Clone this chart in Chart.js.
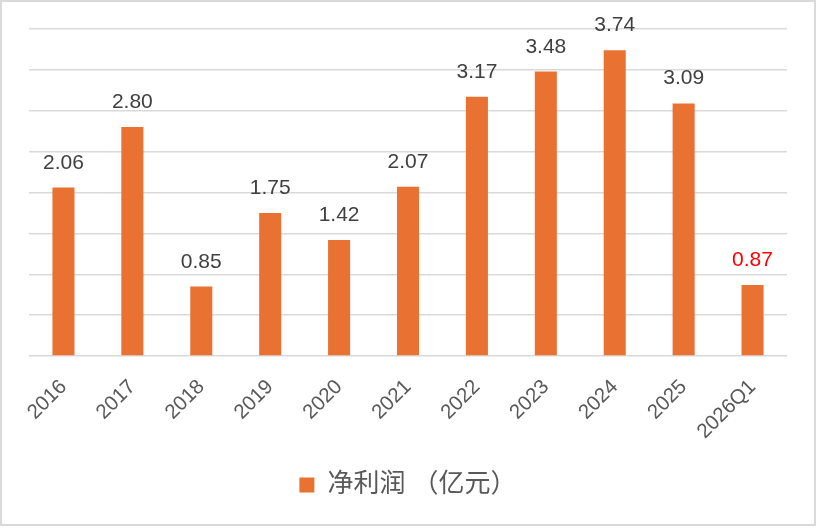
<!DOCTYPE html>
<html>
<head>
<meta charset="utf-8">
<script src="https://cdn.jsdelivr.net/npm/chart.js@4"></script>
<style>
  html, body { margin: 0; padding: 0; background: #ffffff; }
  #wrap { position: relative; width: 818px; height: 528px; }
  #frame { position: absolute; left: 0; top: 0; width: 816px; height: 526px; box-sizing: border-box; border: 2px solid #d9d9d9; pointer-events: none; }
  canvas { display: block; }
</style>
</head>
<body>
<div id="wrap">
  <canvas id="c" width="818" height="528"></canvas>
  <div id="frame"></div>
</div>
<script>
const categories = ['2016', '2017', '2018', '2019', '2020', '2021', '2022', '2023', '2024', '2025', '2026Q1'];
const netProfit = [2.06, 2.80, 0.85, 1.75, 1.42, 2.07, 3.17, 3.48, 3.74, 3.09, 0.87];
const seriesName = '净利润 （亿元）';
const yMin = 0, yMax = 4, yStep = 0.5;

const FONT = '"Liberation Sans", Arial, "Noto Sans CJK SC", sans-serif';
const BAR_COLOR = '#E97132';

const dataLabelPlugin = {
  id: 'dataLabels',
  afterDatasetsDraw(chart) {
    const ctx = chart.ctx;
    const meta = chart.getDatasetMeta(0);
    const vals = chart.data.datasets[0].data;
    ctx.save();
    ctx.font = '21px ' + FONT;
    ctx.textAlign = 'center';
    ctx.textBaseline = 'alphabetic';
    meta.data.forEach((bar, i) => {
      ctx.fillStyle = (i === vals.length - 1) ? '#FF0000' : '#404040';
      ctx.fillText(vals[i].toFixed(2), bar.x, bar.y - 19);
    });
    ctx.restore();
  }
};

new Chart(document.getElementById('c'), {
  type: 'bar',
  data: {
    labels: categories,
    datasets: [{
      label: seriesName,
      data: netProfit,
      backgroundColor: BAR_COLOR,
      borderWidth: 0,
      categoryPercentage: 1.0,
      barPercentage: 0.32
    }]
  },
  options: {
    responsive: false,
    animation: false,
    devicePixelRatio: 1,
    layout: { padding: { left: 29, right: 31, top: 29, bottom: 20 } },
    plugins: {
      legend: {
        position: 'bottom',
        labels: {
          boxWidth: 15,
          boxHeight: 15,
          padding: 9,
          color: '#595959',
          font: { size: 26, family: FONT }
        }
      },
      tooltip: { enabled: false }
    },
    scales: {
      x: {
        grid: { display: false, drawTicks: false },
        border: { display: false },
        ticks: {
          color: '#595959',
          font: { size: 20.5, family: FONT },
          minRotation: 45,
          maxRotation: 45,
          padding: 19
        },
        afterFit(scale) { scale.height = 107; }
      },
      y: {
        min: yMin,
        max: yMax,
        ticks: { display: false, stepSize: yStep },
        grid: { color: '#d9d9d9', lineWidth: 1.5, drawTicks: false },
        border: { display: false }
      }
    }
  },
  plugins: [dataLabelPlugin]
});
</script>
</body>
</html>
